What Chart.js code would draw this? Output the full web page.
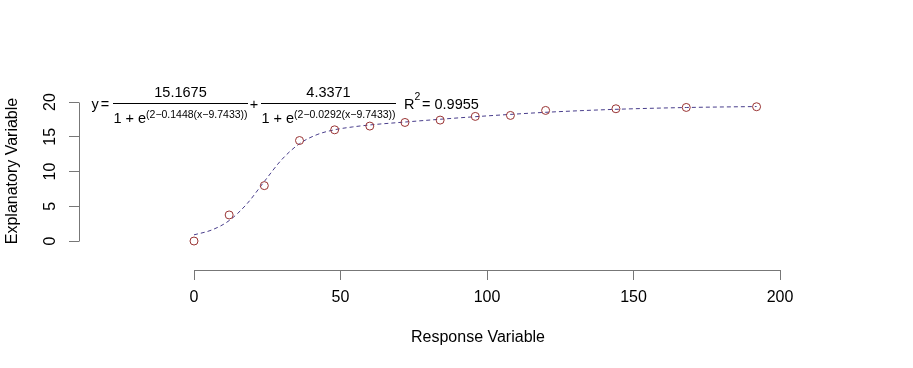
<!DOCTYPE html>
<html>
<head>
<meta charset="utf-8">
<script src="https://cdn.jsdelivr.net/npm/chart.js@4.4.0/dist/chart.umd.min.js"></script>
<style>
  html, body { margin: 0; padding: 0; background: #fff; }
  #wrap { width: 913px; height: 368px; }
</style>
</head>
<body>
<div id="wrap"><canvas id="growthChart" width="913" height="368"></canvas></div>
<script>
// Observed points (circles)
const timeValues = [0, 12, 24, 36, 48, 60, 72, 84, 96, 108, 120, 144, 168, 192];
const observedValues = [0, 3.75, 7.97, 14.46, 16.0, 16.54, 17.06, 17.4, 17.93, 18.07, 18.79, 19.03, 19.22, 19.32];

// Fitted curve (dashed line)
const fitTimes = [0, 6, 12, 18, 24, 30, 36, 42, 48, 54, 60, 72, 84, 96, 108, 120, 144, 168, 192];
const fitValues = [0.89, 1.58, 2.94, 5.32, 8.57, 11.74, 14.0, 15.31, 16.01, 16.41, 16.7, 17.12, 17.52, 17.89, 18.22, 18.52, 18.95, 19.21, 19.35];

// Tick labels
const xTicks = [0, 50, 100, 150, 200];
const yTicks = [0, 5, 10, 15, 20];

const FONT = '"Liberation Sans", Arial, Helvetica, sans-serif';
const axisColor = '#777777';
Chart.defaults.font.family = FONT;
Chart.defaults.color = '#000';

// R-style axis lines that only run from the first to the last tick
const axisLinePlugin = {
    id: 'axisLines',
    afterDraw(chart) {
        const { ctx, chartArea, scales } = chart;
        const xs = scales.x, ys = scales.y;
        ctx.save();
        ctx.strokeStyle = axisColor;
        ctx.lineWidth = 1;
        ctx.beginPath();
        const lx = Math.round(chartArea.left) + 0.5;
        ctx.moveTo(lx, Math.round(ys.getPixelForValue(yTicks[yTicks.length - 1])) + 0.5);
        ctx.lineTo(lx, Math.round(ys.getPixelForValue(yTicks[0])) + 0.5);
        const by = Math.round(chartArea.bottom) + 0.5;
        ctx.moveTo(Math.round(xs.getPixelForValue(xTicks[0])) + 0.5, by);
        ctx.lineTo(Math.round(xs.getPixelForValue(xTicks[xTicks.length - 1])) + 0.5, by);
        ctx.stroke();
        ctx.restore();
    }
};

// Fitted equation and R squared
const bigFont = '14.5px ' + FONT;
const smallFont = '10.5px ' + FONT;

function drawFraction(c, x0, x1, num, expo) {
    c.beginPath();
    c.moveTo(x0, 103.5);
    c.lineTo(x1, 103.5);
    c.stroke();
    c.font = bigFont;
    c.textAlign = 'center';
    c.fillText(num, (x0 + x1) / 2, 97);
    c.textAlign = 'left';
    const w1 = c.measureText('1 + e').width;
    c.font = smallFont;
    const w2 = c.measureText(expo).width;
    const start = (x0 + x1) / 2 - (w1 + w2) / 2;
    c.font = bigFont;
    c.fillText('1 + e', start, 122.7);
    c.font = smallFont;
    c.fillText(expo, start + w1, 117.5);
}

const equationPlugin = {
    id: 'equation',
    afterDraw(chart) {
        const c = chart.ctx;
        c.save();
        c.fillStyle = '#000';
        c.strokeStyle = '#000';
        c.lineWidth = 1;
        c.textBaseline = 'alphabetic';
        c.font = bigFont;
        c.textAlign = 'left';
        c.fillText('y', 91.5, 109);
        c.textAlign = 'center';
        c.fillText('=', 105, 109);
        drawFraction(c, 113, 248, '15.1675', '(2\u22120.1448(x\u22129.7433))');
        c.font = bigFont;
        c.textAlign = 'center';
        c.fillText('+', 254, 109);
        drawFraction(c, 261, 396, '4.3371', '(2\u22120.0292(x\u22129.7433))');
        c.textAlign = 'left';
        c.font = bigFont;
        c.fillText('R', 404, 108.5);
        c.font = smallFont;
        c.fillText('2', 414.5, 100);
        c.font = bigFont;
        c.fillText('= 0.9955', 422, 108.5);
        c.restore();
    }
};

const ctx = document.getElementById('growthChart').getContext('2d');
const growthChart = new Chart(ctx, {
    type: 'scatter',
    data: {
        datasets: [{
            label: 'Fitted curve',
            data: fitTimes.map((t, i) => ({ x: t, y: fitValues[i] })),
            showLine: true,
            borderColor: '#483D8B',
            borderWidth: 1,
            borderDash: [4, 3],
            pointRadius: 0,
            fill: false,
            cubicInterpolationMode: 'monotone',
            order: 2
        }, {
            label: 'Observed',
            data: timeValues.map((t, i) => ({ x: t, y: observedValues[i] })),
            showLine: false,
            pointStyle: 'circle',
            pointRadius: 4,
            pointBorderWidth: 1,
            pointBorderColor: '#993333',
            pointBackgroundColor: 'rgba(0,0,0,0)',
            order: 1
        }]
    },
    options: {
        responsive: false,
        animation: false,
        devicePixelRatio: 1,
        layout: { padding: { top: 72, right: 36, bottom: 0, left: 0 } },
        plugins: { legend: { display: false }, tooltip: { enabled: false } },
        scales: {
            x: {
                type: 'linear',
                min: -39.25,
                max: 233.1,
                afterFit(s) { s.height = 98; },
                afterBuildTicks(s) { s.ticks = xTicks.map(v => ({ value: v })); },
                border: { display: false },
                grid: { drawOnChartArea: false, drawTicks: true, tickLength: 10, color: axisColor, tickColor: axisColor, lineWidth: 1 },
                ticks: { autoSkip: false, maxRotation: 0, padding: 8, color: '#000', font: { size: 16 } },
                title: { display: true, text: 'Response Variable', color: '#000', font: { size: 16 }, padding: { top: 0, bottom: 21 } }
            },
            y: {
                type: 'linear',
                min: -4.17,
                max: 24.32,
                afterFit(s) { s.width = 79; },
                afterBuildTicks(s) { s.ticks = yTicks.map(v => ({ value: v })); },
                border: { display: false },
                grid: { drawOnChartArea: false, drawTicks: true, tickLength: 10, color: axisColor, tickColor: axisColor, lineWidth: 1 },
                ticks: { autoSkip: false, minRotation: 90, maxRotation: 90, crossAlign: 'center', padding: 9.5, color: '#000', font: { size: 16 } },
                title: { display: true, text: 'Explanatory Variable', color: '#000', font: { size: 16 }, padding: { top: 3, bottom: 0 } }
            }
        }
    },
    plugins: [axisLinePlugin, equationPlugin]
});
</script>
</body>
</html>
